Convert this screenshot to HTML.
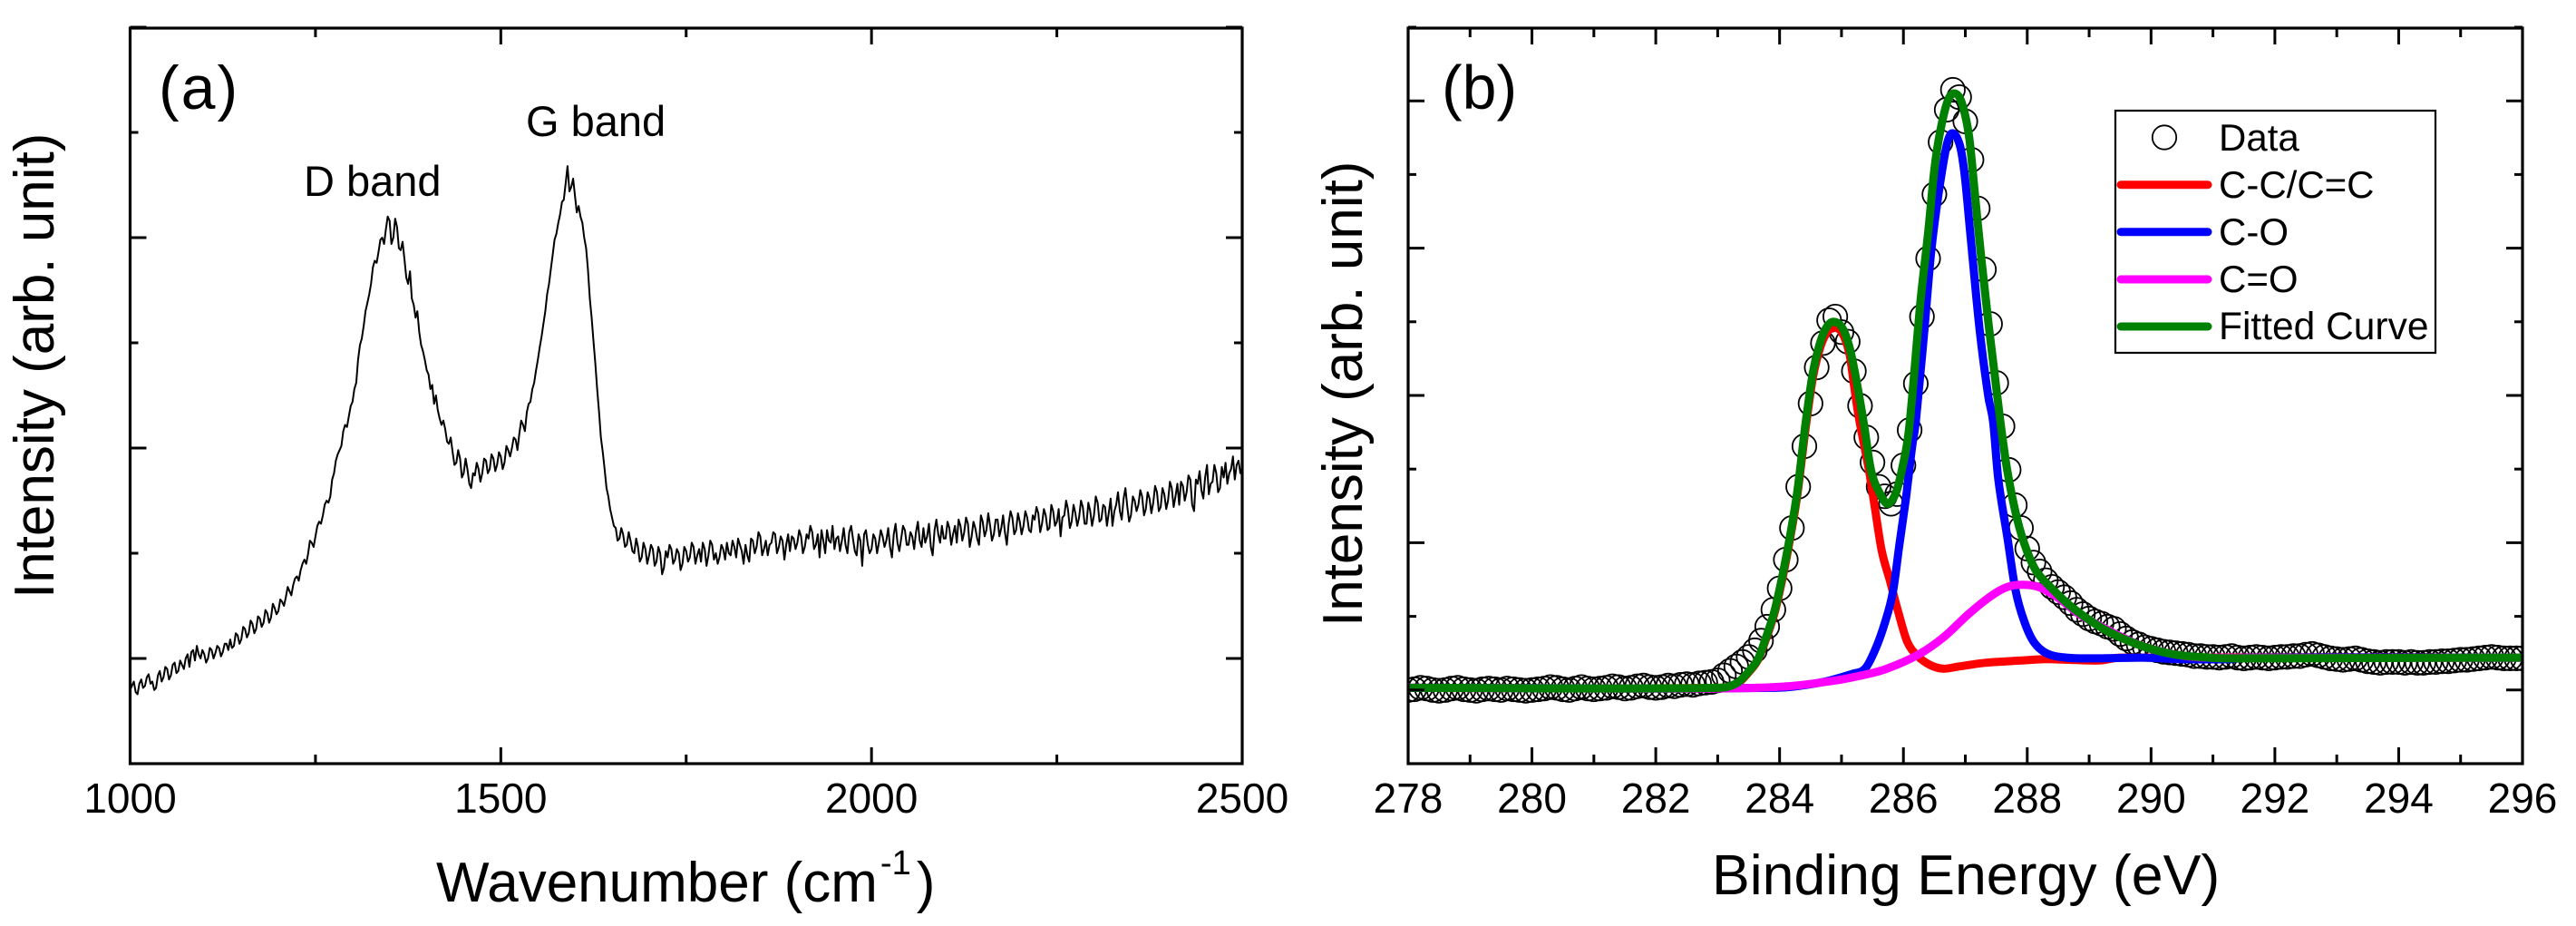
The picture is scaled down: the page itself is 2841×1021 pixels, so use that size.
<!DOCTYPE html>
<html lang="en">
<head>
<meta charset="utf-8">
<title>Raman and XPS spectra</title>
<style>
html,body{margin:0;padding:0;background:#fff;}
svg{display:block;font-family:"Liberation Sans",Arial,sans-serif;fill:#000;}
text{fill:#000;}
</style>
</head>
<body>
<svg id="fig" xmlns="http://www.w3.org/2000/svg" width="2841" height="1021" viewBox="0 0 2841 1021">
  <rect x="0" y="0" width="2841" height="1021" fill="#fff"/>
  <defs>
    <clipPath id="clipA"><rect x="143" y="31" width="1227" height="811"/></clipPath>
    <clipPath id="clipB"><rect x="1553" y="31" width="1229" height="811"/></clipPath>
  </defs>
  <g id="panelA">
    <g id="seriesA" clip-path="url(#clipA)"></g>
    <g id="ticksA"></g>
    <rect x="143.5" y="31" width="1226.5" height="811" fill="none" stroke="#000" stroke-width="3.2"/>
    <text x="175" y="120" font-size="68" letter-spacing="2">(a)</text>
    <text x="335" y="216" font-size="47">D band</text>
    <text x="580" y="150" font-size="47">G band</text>
    <text transform="translate(59,660) rotate(-90)" font-size="62">Intensity (arb. unit)</text>
    <text x="481" y="994" font-size="62">Wavenumber (cm<tspan font-size="38" dx="3" dy="-30">-1</tspan><tspan dx="6" dy="30">)</tspan></text>
  </g>
  <g id="panelB">
    <g id="seriesB" clip-path="url(#clipB)"></g>
    <g id="ticksB"></g>
    <rect x="1553" y="31" width="1229" height="811" fill="none" stroke="#000" stroke-width="3.2"/>
    <text x="1590" y="119.5" font-size="68">(b)</text>
    <text transform="translate(1502,691) rotate(-90)" font-size="62">Intensity (arb. unit)</text>
    <text x="1888" y="986" font-size="62.6">Binding Energy (eV)</text>
    <g>
      <rect x="2333" y="122" width="353" height="267" fill="#fff" stroke="#000" stroke-width="2.2"/>
      <ellipse cx="2387" cy="151.5" rx="13.2" ry="13.2" fill="none" stroke="#000" stroke-width="1.8"/>
      <text x="2447" y="166" font-size="42">Data</text>
      <line x1="2339" y1="203.7" x2="2435" y2="203.7" stroke="#f00" stroke-width="9" stroke-linecap="round"/>
      <text x="2447" y="218" font-size="42">C-C/C=C</text>
      <line x1="2339" y1="255.7" x2="2435" y2="255.7" stroke="#00f" stroke-width="9" stroke-linecap="round"/>
      <text x="2447" y="270" font-size="42">C-O</text>
      <line x1="2339" y1="308" x2="2435" y2="308" stroke="#f0f" stroke-width="9" stroke-linecap="round"/>
      <text x="2447" y="322" font-size="42">C=O</text>
      <line x1="2339" y1="360" x2="2435" y2="360" stroke="#008000" stroke-width="9" stroke-linecap="round"/>
      <text x="2447" y="374" font-size="42.5">Fitted Curve</text>
    </g>
  </g>
</svg>
<script>
// ---------- Panel (a): Raman spectrum ----------
const ramanStart = 1000;
const ramanStep = 2.5;
const ramanCounts = [
  70,74,78,68,66,76,80,72,74,82,85,76,78,70,72,84,88,78,82,92,90,80,84,94,96,86,88,98,94,90,100,104,92,106,108,98,112,104,100,108,
  104,96,100,110,108,100,105,112,110,102,106,114,114,108,118,110,112,124,122,114,118,130,128,120,124,136,133,124,128,140,138,130,134,146,143,134,139,152,148,142,
  145,156,154,150,158,168,164,160,170,176,178,174,184,190,194,190,199,212,210,206,216,226,230,228,236,246,250,248,254,270,276,288,294,298,302,316,322,320,330,340,
  344,356,362,384,398,404,416,430,438,446,456,472,478,476,486,498,500,494,508,520,516,494,500,518,510,490,488,496,480,462,456,468,442,436,424,430,410,398,392,384,
  374,370,356,360,342,350,336,328,322,326,318,306,304,310,296,284,286,298,290,272,276,290,280,266,262,276,274,286,280,268,276,290,288,276,280,294,290,278,284,296,
  292,280,286,302,298,292,300,310,308,298,314,326,322,316,334,342,344,356,362,374,384,396,406,418,430,446,456,470,484,498,504,514,522,534,536,552,568,544,548,556,
  540,524,530,520,514,500,490,470,442,424,402,380,356,334,310,296,280,262,254,242,234,226,224,212,214,224,218,206,208,220,212,202,200,214,206,192,196,210,204,190,
  198,208,204,188,192,206,200,180,186,202,196,208,204,190,194,204,200,184,190,206,202,192,196,210,206,190,198,204,192,210,204,188,198,212,208,194,200,190,196,208,
  204,194,210,200,198,212,206,196,214,208,202,190,208,198,192,214,212,200,206,220,216,198,204,212,198,208,210,220,218,200,206,216,212,194,208,218,202,216,214,204,
  210,222,216,200,206,218,214,226,220,204,208,218,196,222,212,200,222,212,210,226,204,214,216,202,212,224,208,200,220,226,214,202,198,218,212,188,218,222,208,200,
  204,218,214,200,210,222,216,206,212,224,206,196,218,228,210,202,214,226,222,208,208,220,216,204,220,230,212,206,224,210,216,228,206,198,222,232,218,210,226,214,
  214,230,224,208,218,226,210,232,226,212,220,234,228,206,216,230,224,214,208,236,230,216,222,238,226,212,218,232,232,216,224,236,220,208,228,240,234,218,222,238,
  230,218,226,240,234,222,220,236,232,244,238,220,228,242,236,222,224,246,240,226,230,242,216,234,236,250,242,224,230,246,238,226,234,250,244,228,228,248,240,226,
  236,254,248,230,232,246,244,226,238,252,226,240,246,258,240,232,252,262,244,230,236,254,250,240,246,260,254,236,242,258,252,238,248,264,258,240,244,262,256,242,
  250,268,262,244,254,266,246,268,264,250,258,274,270,246,240,270,266,278,260,252,272,284,256,266,268,284,276,258,262,282,272,286,266,276,280,292,270,284,288,276,
  282
];
const ramanXTicks = [1000,1250,1500,1750,2000,2250,2500];
const ramanXLabels = ["1000","","1500","","2000","","2500"];
const ramanYTicks = [0,100,200,300,400,500,600,700];
const ramanYMajor = [100,300,500,700];

// ---------- Panel (b): XPS C1s spectrum ----------
const xpsStart = 278;
const xpsStep = 0.1;
const xpsData = [
  100,101,103,102,100,99,100,102,103,101,
  100,99,101,102,101,100,102,101,100,99,
  100,101,102,104,103,101,100,102,104,102,
  101,102,103,105,104,102,103,105,106,104,
  103,104,106,105,107,108,107,109,110,111,
  113,120,126,132,138,145,154,167,186,209,
  238,277,320,376,431,489,538,571,602,607,
  586,573,533,486,443,409,376,363,353,366,
  405,453,516,607,686,773,844,888,915,905,
  872,820,754,671,597,517,458,399,351,320,
  292,273,261,249,240,233,226,218,209,203,
  197,193,190,186,183,176,170,165,162,158,
  156,154,152,151,150,149,148,146,146,145,
  145,144,145,146,144,143,144,145,144,143,
  144,145,145,146,146,148,149,147,145,143,
  142,141,142,143,141,139,138,137,138,138,
  138,137,138,137,137,138,138,139,139,140,
  141,141,142,143,144,145,144,143,143,143,
  143
];
const ccEv = [278,283.04,283.32,283.51,283.65,283.78,283.92,284.05,284.19,284.29,284.42,284.54,284.66,284.77,284.88,285.01,285.13,285.2,285.28,285.44,285.54,285.65,285.78,285.91,286.06,286.22,286.43,286.64,286.9,287.32,287.9,288.31,289.15,289.5,296];
const ccVal = [103,103,109,125,141,169,205,253,315,367,455,525,566,586,592,585,556,515,470,400,347,289,249,208,166,147,134,129,132,137,140,142,140,144,144];
const coEv = [278,283.92,284.65,285.18,285.38,285.54,285.7,285.83,285.93,286.04,286.14,286.2,286.33,286.45,286.57,286.7,286.79,286.91,286.99,287.08,287.23,287.37,287.45,287.53,287.68,287.81,287.94,288.1,288.31,288.63,289.1,289.88,290.4,291.3,291.5,296];
const coVal = [103,103,110,122,129,154,191,233,294,360,430,464,581,696,775,840,856,840,799,720,590,499,464,388,307,236,196,166,150,144,143,144,142,142,144,144];
const coDoubleEv = [278,282.86,284.12,284.91,285.28,285.7,286.22,286.64,287.05,287.42,287.68,287.94,288.21,288.52,288.84,289.36,289.88,290.4,290.93,296];
const coDoubleVal = [103,102,105,113,119,128,147,171,203,228,240,243,239,224,203,179,159,148,144,144];
const fitEv = [278,283.04,283.32,283.51,283.65,283.78,283.92,284.05,284.19,284.29,284.42,284.54,284.66,284.77,284.88,285.01,285.13,285.25,285.36,285.48,285.64,285.75,285.88,285.98,286.09,286.28,286.4,286.5,286.6,286.72,286.83,286.94,287.06,287.15,287.26,287.38,287.48,287.57,287.68,287.84,287.99,288.15,288.42,288.73,289.15,289.57,289.99,290.4,290.93,291.28,296];
const fitVal = [103,103,110,126,142,171,208,257,319,372,462,532,573,594,600,592,565,516,462,397,364,353,368,401,454,631,721,807,861,901,910,898,852,778,684,594,524,462,397,331,290,261,236,212,187,169,156,148,144,143,144];
const xpsXTicks = [278,279,280,281,282,283,284,285,286,287,288,289,290,291,292,293,294,295,296];
const xpsXLabels = ["278","","280","","282","","284","","286","","288","","290","","292","","294","","296"];
const xpsYTicks = [0,100,200,300,400,500,600,700,800,900,1000];
const xpsYMajor = [100,300,500,700,900];

// ---------- Axis functions ----------
const NS = "http://www.w3.org/2000/svg";
const xA = v => 143.5 + (v - 1000) * (1370 - 143.5) / 1500;
const yA = v => 842 - v * (842 - 30) / 700;
const xB = v => 1553 + (v - 278) * (2782 - 1553) / 18;
const yB = v => 842 - v * (842 - 30) / 1000;

function make(tag, attrs) {
  const el = document.createElementNS(NS, tag);
  for (const k in attrs) el.setAttribute(k, attrs[k]);
  return el;
}
function linePath(xs, ys, fx, fy) {
  return xs.map((x, i) => (i ? "L" : "M") + fx(x).toFixed(1) + " " + fy(ys[i]).toFixed(1)).join("");
}
// Smooth rendering of the read points: Hermite segments with chord-based slopes
function smoothPath(xs, ys, fx, fy) {
  const px = xs.map(fx);
  const py = ys.map(fy);
  const n = px.length;
  const slope = i => {
    const a = Math.max(0, i - 1);
    const b = Math.min(n - 1, i + 1);
    return (py[b] - py[a]) / (px[b] - px[a]);
  };
  let d = "M" + px[0].toFixed(1) + " " + py[0].toFixed(1);
  for (let i = 0; i < n - 1; i++) {
    const h = (px[i + 1] - px[i]) / 3;
    const c1x = px[i] + h;
    const c1y = py[i] + slope(i) * h;
    const c2x = px[i + 1] - h;
    const c2y = py[i + 1] - slope(i + 1) * h;
    d += "C" + c1x.toFixed(1) + " " + c1y.toFixed(1) + " " + c2x.toFixed(1) + " " + c2y.toFixed(1) + " " + px[i + 1].toFixed(1) + " " + py[i + 1].toFixed(1);
  }
  return d;
}

// ---------- Ticks ----------
function drawXTicks(group, ticks, labels, fx, isMajor) {
  ticks.forEach((t, i) => {
    const len = isMajor(i) ? 18 : 10;
    const x = fx(t);
    const bottom = make("line", {x1: x, x2: x, y1: 842, y2: 842 - len, stroke: "#000", "stroke-width": 3});
    
    
    group.appendChild(bottom);
    const top = make("line", {x1: x, x2: x, y1: 31, y2: 31 + len, stroke: "#000", "stroke-width": 3});
    
    
    group.appendChild(top);
    if (labels[i]) {
      const lab = make("text", {x: x, y: 896, "font-size": 46, "text-anchor": "middle"});
      
      
      lab.textContent = labels[i];
      group.appendChild(lab);
    }
  });
}
function drawYTicks(group, ticks, major, fy, xLeft, xRight) {
  ticks.forEach(t => {
    const len = major.includes(t) ? 18 : 9;
    const y = fy(t);
    const left = make("line", {x1: xLeft, x2: xLeft + len, y1: y, y2: y, stroke: "#000", "stroke-width": 3});
    
    
    group.appendChild(left);
    const right = make("line", {x1: xRight, x2: xRight - len, y1: y, y2: y, stroke: "#000", "stroke-width": 3});
    
    
    group.appendChild(right);
  });
}
const ticksA = document.getElementById("ticksA");
const ticksB = document.getElementById("ticksB");
drawXTicks(ticksA, ramanXTicks, ramanXLabels, xA, i => i % 2 === 0);
drawYTicks(ticksA, ramanYTicks, ramanYMajor, yA, 143.5, 1370);
drawXTicks(ticksB, xpsXTicks, xpsXLabels, xB, i => i % 2 === 0);
drawYTicks(ticksB, xpsYTicks, xpsYMajor, yB, 1553, 2782);

// ---------- Raman series ----------
const seriesA = document.getElementById("seriesA");
const ramanX = ramanCounts.map((_, i) => ramanStart + i * ramanStep);
const ramanLine = make("path", {d: linePath(ramanX, ramanCounts, xA, yA), fill: "none", stroke: "#000", "stroke-width": 2, "stroke-linejoin": "round"});


seriesA.appendChild(ramanLine);

// ---------- XPS series ----------
const seriesB = document.getElementById("seriesB");
xpsData.forEach((v, i) => {
  const ev = xpsStart + i * xpsStep;
  const pt = make("circle", {cx: xB(ev).toFixed(1), cy: yB(v).toFixed(1), r: 13.2, fill: "none", stroke: "#000", "stroke-width": 1.8});
  
  
  seriesB.appendChild(pt);
});
function drawCurve(xs, ys, color) {
  return make("path", {d: smoothPath(xs, ys, xB, yB), fill: "none", stroke: color, "stroke-width": 9, "stroke-linejoin": "round", "stroke-linecap": "butt"});
}
const ccCurve = drawCurve(ccEv, ccVal, "#f00");


seriesB.appendChild(ccCurve);
const coCurve = drawCurve(coEv, coVal, "#00f");


seriesB.appendChild(coCurve);
const coDoubleCurve = drawCurve(coDoubleEv, coDoubleVal, "#f0f");


seriesB.appendChild(coDoubleCurve);
const fitCurve = drawCurve(fitEv, fitVal, "#008000");


seriesB.appendChild(fitCurve);
</script>
</body>
</html>
